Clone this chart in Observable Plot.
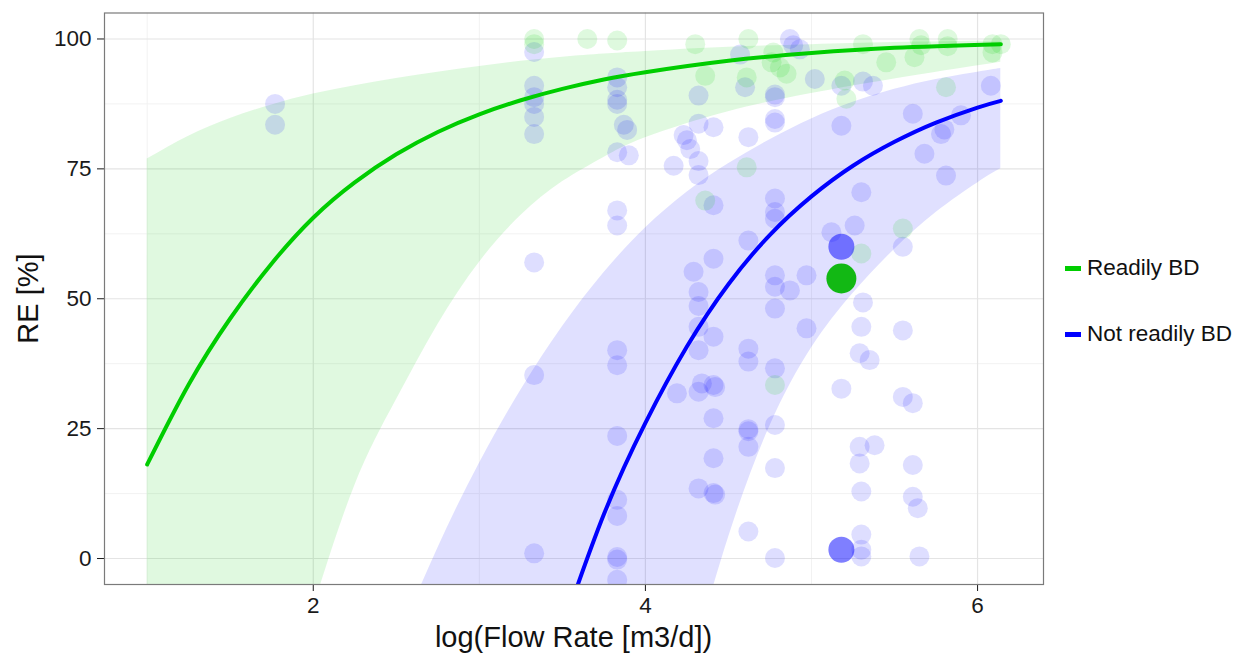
<!DOCTYPE html>
<html><head><meta charset="utf-8">
<script src="https://cdn.jsdelivr.net/npm/d3@7"></script>
<script src="https://cdn.jsdelivr.net/npm/@observablehq/plot@0.6"></script>
<style>
body{margin:0;background:#fff;font-family:"Liberation Sans",Arial,sans-serif;}
#wrap{position:relative;width:1236px;height:656px;overflow:hidden;background:#fff;}
.ttl{position:absolute;color:#111;font-size:29px;line-height:29px;white-space:nowrap;}
.leg{position:absolute;left:1065px;height:26px;font-size:22.5px;color:#111;display:flex;align-items:center;white-space:nowrap;}
.sw{display:inline-block;width:16px;height:5px;margin-right:6px;}
</style></head><body>
<div id="wrap">
 <div id="chart"></div>
 <div class="ttl" style="left:104px;width:939px;top:623px;text-align:center">log(Flow Rate [m3/d])</div>
 <div class="ttl" style="left:-72px;top:284px;width:200px;text-align:center;transform:rotate(-90deg)">RE [%]</div>
 <div id="legend"></div>
</div>
<script>
// axis ticks
const xTicks = [2, 4, 6];
const xMinor = [1, 3, 5];
const yTicks = [0, 25, 50, 75, 100];
const yMinor = [12.5, 37.5, 62.5, 87.5];

// series
const seriesNames = ["Readily BD", "Not readily BD"];
const seriesColors = ["#00cd00", "#0000ff"];

// fitted curve + band, readily BD (green); values below -5 fall outside the panel
const greenX   = [1.0, 1.25, 1.5, 1.75, 2.0, 2.25, 2.5, 2.75, 3.0, 3.25, 3.5, 3.75, 4.0, 4.5, 5.0, 5.5, 6.14];
const greenFit = [18.1, 33.5, 46.2, 56.8, 65.6, 72.4, 77.8, 82.1, 85.5, 88.2, 90.4, 92.2, 93.6, 95.8, 97.3, 98.3, 99.0];
const greenHi  = [76.9, 81.3, 84.7, 87.3, 89.4, 91.0, 92.4, 93.6, 94.7, 95.7, 96.5, 97.1, 97.6, 98.4, 98.9, 99.3, 99.6];
const greenLo  = [-140, -100, -65, -35, -9.5, 14, 30.5, 45, 57, 66, 72.5, 77.2, 81.0, 86.0, 89.5, 92.3, 95.5];

// fitted curve + band, not readily BD (blue)
const blueX   = [2.5, 2.75, 3.0, 3.25, 3.5, 3.75, 4.0, 4.25, 4.5, 4.75, 5.0, 5.25, 5.5, 5.75, 6.0, 6.14];
const blueFit = [null, null, null, null, -13.5, 8.5, 26.1, 40.8, 52.8, 62.3, 69.7, 75.6, 80.2, 83.9, 86.8, 88.1];
const blueHi  = [-16.5, 2.0, 18.3, 32.4, 44.6, 55.0, 63.6, 70.5, 76.0, 80.6, 84.6, 87.8, 90.3, 92.2, 93.6, 94.3];
const blueLo  = [-445, -355, -275, -205, -145, -95, -55, -23.5, 4.0, 25.5, 40.5, 51.0, 59.5, 66.6, 72.3, 75.0];

// observations [log flow, RE]
const greenPoints = [
 [3.33,100],[3.33,99],[3.65,100],[3.83,99.7],[4.30,99.0],[4.36,92.9],[4.36,68.9],
 [4.62,100],[4.61,92.6],[4.61,75.3],[4.77,97.4],[4.76,95.5],[4.81,94.5],[4.85,93.3],[4.78,33.4],
 [5.31,99.0],[5.20,92.0],[5.21,88.5],[5.30,58.7],[5.45,95.5],[5.62,96.5],[5.65,100],[5.66,98.8],
 [5.82,100],[5.82,98.6],[5.81,90.7],[5.55,63.5],[6.09,99.0],[6.14,99.0],[6.09,97.4]
];
const bluePoints = [
 [1.77,87.5],[1.77,83.5],
 [3.33,97.5],[3.33,91.0],[3.33,88.8],[3.33,87.5],[3.33,85.0],[3.33,81.7],[3.33,57.0],[3.33,35.3],[3.33,1.0],
 [3.83,92.6],[3.83,90.7],[3.83,88.3],[3.83,87.5],[3.87,83.5],[3.89,82.5],[3.83,78.2],[3.90,77.6],[3.83,67.0],[3.83,64.1],
 [3.83,40.1],[3.83,37.2],[3.83,23.6],[3.83,11.3],[3.83,8.2],[3.83,0.3],[3.83,-0.2],[3.83,-4.1],
 [4.17,75.6],[4.23,81.5],[4.25,80.5],[4.27,78.8],[4.32,76.5],[4.32,73.8],[4.32,83.7],[4.41,83.0],[4.32,89.1],[4.41,68.0],
 [4.41,57.7],[4.29,55.2],[4.32,51.3],[4.32,48.6],[4.32,44.6],[4.41,42.7],[4.32,40.1],[4.19,31.8],[4.32,32.1],[4.34,33.7],
 [4.41,33.4],[4.42,33.0],[4.41,27.0],[4.41,19.3],[4.32,13.5],[4.41,12.6],[4.42,12.3],
 [4.57,97.0],[4.60,90.7],[4.62,81.1],[4.62,61.2],[4.62,40.4],[4.62,37.9],[4.62,24.9],[4.62,24.5],[4.62,21.5],[4.62,5.2],
 [4.87,100],[4.89,98.8],[4.93,98.0],[4.78,89.3],[4.78,88.8],[4.78,84.6],[4.78,83.9],[4.78,69.3],[4.78,66.7],[4.78,65.4],
 [4.78,54.5],[4.78,52.3],[4.87,51.6],[4.78,48.1],[4.78,36.6],[4.78,25.7],[4.78,17.4],[4.78,0.1],
 [5.02,92.3],[4.97,54.5],[4.97,44.3],
 [5.18,91.0],[5.18,83.3],[5.12,62.8],[5.26,64.1],[5.18,32.7],
 [5.31,91.8],[5.37,91.0],[5.30,70.5],[5.31,49.3],[5.30,44.6],[5.29,39.5],[5.35,38.2],[5.29,21.5],[5.38,21.8],[5.29,18.3],
 [5.30,12.9],[5.30,4.6],[5.30,1.7],[5.30,0.4],
 [5.61,85.6],[5.68,77.9],[5.55,60.0],[5.55,43.9],[5.55,31.1],[5.61,29.9],[5.61,18.0],[5.61,11.9],[5.64,9.7],[5.65,0.4],
 [5.78,81.7],[5.80,82.6],[5.90,85.3],[5.81,73.7],[6.08,91.0]
];
const highlightGreen = [[5.18, 53.9]];
const highlightBlue = [[5.18, 60.0], [5.18, 1.7]];

const gBand = greenX.map((x, i) => ({x, lo: greenLo[i], hi: greenHi[i], fit: greenFit[i]}));
const bBand = blueX.map((x, i) => ({x, lo: blueLo[i], hi: blueHi[i], fit: blueFit[i]}));
const px = d => d[0], py = d => d[1];

const chart = Plot.plot({
  width: 1236, height: 656,
  marginLeft: 104, marginTop: 12.5, marginRight: 193, marginBottom: 72,
  x: {domain: [0.743, 6.397], ticks: xTicks, tickFormat: "d", tickSize: 7, tickPadding: 6, label: null},
  y: {domain: [-5, 105], ticks: yTicks, tickFormat: "d", tickSize: 7, tickPadding: 6, label: null},
  style: {fontSize: "22.5px", fontFamily: "Liberation Sans, Arial, sans-serif", color: "#1a1a1a", background: "white", overflow: "visible"},
  marks: [
    Plot.ruleX(xMinor, {stroke: "#f2f2f2", strokeWidth: 1}),
    Plot.ruleY(yMinor, {stroke: "#f2f2f2", strokeWidth: 1}),
    Plot.ruleX(xTicks, {stroke: "#e4e4e4", strokeWidth: 1.2}),
    Plot.ruleY(yTicks, {stroke: "#e4e4e4", strokeWidth: 1.2}),
    Plot.areaY(gBand, {x: "x", y1: "lo", y2: "hi", fill: seriesColors[0], fillOpacity: 0.12, curve: "natural", clip: true}),
    Plot.areaY(bBand, {x: "x", y1: "lo", y2: "hi", fill: seriesColors[1], fillOpacity: 0.12, curve: "natural", clip: true}),
    Plot.dot(bluePoints, {x: px, y: py, r: 10, fill: seriesColors[1], fillOpacity: 0.13, stroke: null, clip: true}),
    Plot.dot(greenPoints, {x: px, y: py, r: 10, fill: seriesColors[0], fillOpacity: 0.13, stroke: null, clip: true}),
    Plot.lineY(gBand, {x: "x", y: "fit", stroke: seriesColors[0], strokeWidth: 4, curve: "natural", clip: true}),
    Plot.lineY(bBand.filter(d => d.fit != null), {x: "x", y: "fit", stroke: seriesColors[1], strokeWidth: 4, curve: "natural", clip: true}),
    Plot.dot(highlightBlue, {x: px, y: py, r: 13, fill: seriesColors[1], fillOpacity: 0.5, stroke: null}),
    Plot.dot(highlightGreen, {x: px, y: py, r: 15, fill: "#00b400", fillOpacity: 0.92, stroke: null}),
    Plot.frame({stroke: "#7a7a7a", strokeWidth: 1.2})
  ]
});
document.getElementById("chart").appendChild(chart);

const legend = document.getElementById("legend");
seriesNames.forEach((name, i) => {
  const item = document.createElement("div");
  item.className = "leg";
  item.style.top = (255 + i * 66) + "px";
  const sw = document.createElement("span");
  sw.className = "sw";
  sw.style.background = seriesColors[i];
  item.appendChild(sw);
  item.appendChild(document.createTextNode(name));
  legend.appendChild(item);
});
</script>
</body></html>
